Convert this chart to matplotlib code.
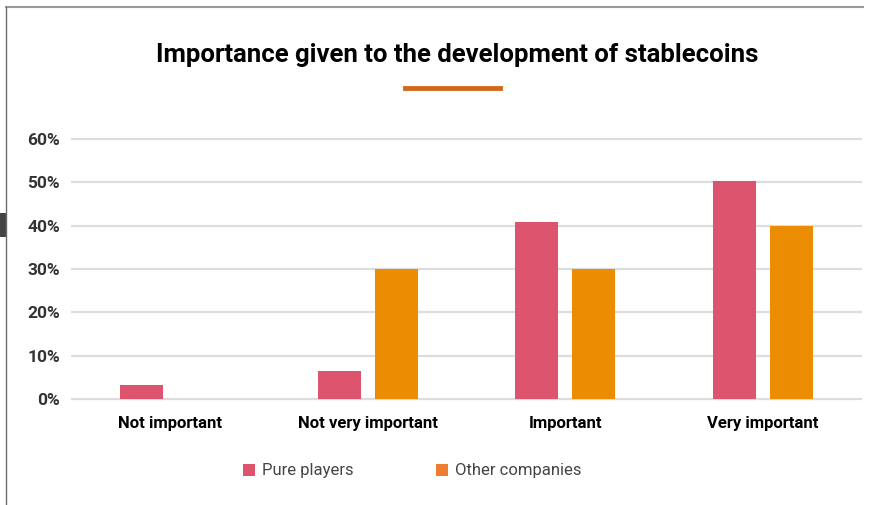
import matplotlib.pyplot as plt
from matplotlib.lines import Line2D
from matplotlib.patches import Rectangle
import numpy as np

categories = ["Not important", "Not very important", "Important", "Very important"]
pure_players = [3.2, 6.5, 40.8, 50.2]
other_companies = [0, 30, 30, 40]
yticks = [0, 10, 20, 30, 40, 50, 60]

PINK = "#DC546D"
ORANGE = "#EB8C02"
FONT = ["Liberation Sans Narrow", "Roboto", "DejaVu Sans"]

W, H = 872, 505
fig = plt.figure(figsize=(W / 100, H / 100), dpi=100)

# frame like the page it came from
fig.add_artist(Line2D([6 / W, 863 / W], [1 - 7 / H, 1 - 7 / H], color="#9a9a9a", lw=1.5))
fig.add_artist(Line2D([6 / W, 6 / W], [0, 1 - 7 / H], color="#6a6a6a", lw=1))
fig.add_artist(Rectangle((0, 1 - 237 / H), 7 / W, 24 / H, color="#444444", lw=0))

# title + underline
fig.text(457 / W, 1 - 55 / H, "Importance given to the development of stablecoins",
         ha="center", va="center", fontsize=18.5, fontweight="bold", family=FONT, color="black")
fig.add_artist(Line2D([405 / W, 500 / W], [1 - 88 / H, 1 - 88 / H], color="#D2691A", lw=3.5))

# axes
y0, y1 = 401.2, 136.8
ax = fig.add_axes([71 / W, 1 - y0 / H, (862 - 71) / W, (y0 - y1) / H])
ax.set_ylim(-0.5, 60.5)
ax.set_xlim(-0.5, 3.5)

x = np.arange(len(categories))
bw = 0.217
ax.bar(x - 0.144, pure_players, bw, color=PINK, zorder=3)
ax.bar(x + 0.144, other_companies, bw, color=ORANGE, zorder=3)

ax.set_yticks(yticks)
ax.set_yticklabels([f"{v}%" for v in yticks], fontsize=12.5, fontweight="bold",
                   family=FONT, color="#333333")
ax.set_xticks(x)
ax.set_xticklabels(categories, fontsize=12, fontweight="bold", family=FONT, color="black")
ax.tick_params(length=0)
ax.tick_params(axis="y", pad=8)
ax.tick_params(axis="x", pad=11)
ax.grid(axis="y", color="#dddddd", lw=1.6, zorder=0)
for s in ax.spines.values():
    s.set_visible(False)

# legend drawn by hand
for xs, lab, col in [(243, "Pure players", PINK), (436, "Other companies", "#EE7E2F")]:
    fig.add_artist(Rectangle((xs / W, 1 - 476 / H), 12 / W, 12 / H, color=col, lw=0))
    fig.text((xs + 19) / W, 1 - 470 / H, lab, ha="left", va="center", fontsize=12,
             family=FONT, color="#444444")

fig.savefig("out.png", dpi=100)
